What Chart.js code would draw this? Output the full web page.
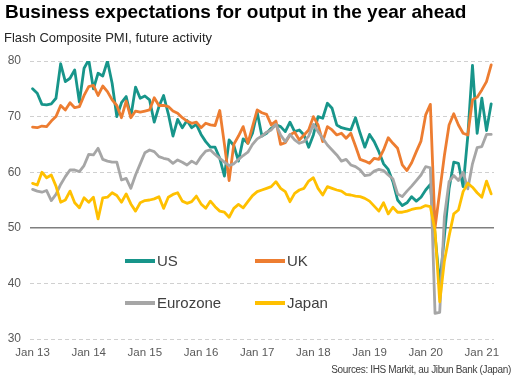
<!DOCTYPE html>
<html>
<head>
<meta charset="utf-8">
<script src="https://cdn.jsdelivr.net/npm/chart.js@4"></script>
<style>
  html, body { margin: 0; padding: 0; background: #fff; }
  #wrap { position: relative; width: 522px; height: 388px; overflow: hidden; font-family: "Liberation Sans", Arial, sans-serif; }
  #title { position: absolute; left: 5px; top: 2px; font-size: 19px; line-height: 19px; font-weight: bold; color: #000; white-space: nowrap; }
  #subtitle { position: absolute; left: 4px; top: 31px; font-size: 13px; line-height: 13px; color: #262626; white-space: nowrap; }
  #source { position: absolute; right: 11px; top: 365px; font-size: 10px; line-height: 10px; color: #404040; letter-spacing: -0.35px; white-space: nowrap; }
  canvas { position: absolute; left: 0; top: 0; }
</style>
</head>
<body>
<div id="wrap">
  <canvas id="pmiChart" width="522" height="388"></canvas>
  <div id="title">Business expectations for output in the year ahead</div>
  <div id="subtitle">Flash Composite PMI, future activity</div>
  <div id="source">Sources: IHS Markit, au Jibun Bank (Japan)</div>
</div>
<script>
/* Flash composite PMI future activity, monthly Jan 2013 - Mar 2021 */
const tickLabels = ['Jan 13', 'Jan 14', 'Jan 15', 'Jan 16', 'Jan 17', 'Jan 18', 'Jan 19', 'Jan 20', 'Jan 21'];
const seriesNames = ['US', 'UK', 'Eurozone', 'Japan'];

const usValues = [
  75.0, 74.2, 72.2, 72.1, 72.3, 73.3, 79.5, 76.3, 76.9, 78.4, 72.6, 78.7,
  80.2, 75.0, 77.8, 77.3, 80.0, 76.0, 70.0, 72.5, 73.6, 70.0, 75.3, 73.3,
  73.7, 73.0, 69.0, 71.8, 73.8, 70.5, 66.5, 69.5, 68.0, 69.3, 68.0, 68.6,
  66.8, 65.5, 64.5, 64.5, 62.5, 59.3, 65.8, 64.8, 62.0, 66.0, 65.2, 67.0,
  70.8, 66.5, 67.0, 67.9, 68.5, 68.2, 67.3, 69.0, 67.3, 67.6, 66.7, 64.5,
  66.7, 70.0, 69.7, 72.4, 71.5, 68.5, 68.0, 67.8, 67.6, 69.8, 67.0, 64.5,
  66.8, 65.5, 63.7, 61.5, 60.5, 58.3, 55.0, 54.0, 54.5, 55.6, 54.8, 55.5,
  56.8, 57.8, 48.7, 39.8, 48.5, 57.0, 61.8, 61.6, 57.4, 66.5, 79.2, 67.0,
  73.3, 67.5, 72.3
];
const ukValues = [
  68.1, 68.0, 68.3, 68.2, 69.2, 70.0, 72.0, 71.2, 72.5, 71.6, 71.8, 73.8,
  75.4, 75.6, 73.8, 75.5, 74.5, 73.0, 72.0, 69.8, 72.8, 69.8, 71.0, 70.8,
  71.0, 71.2, 73.4, 72.0, 72.0, 71.8, 71.0, 70.6, 69.8, 69.2, 68.8, 69.0,
  68.0, 68.8, 68.5, 68.4, 71.1, 65.0, 58.5, 65.0, 66.5, 68.2, 65.2, 68.2,
  71.2, 70.7, 70.4, 68.5, 69.2, 65.0, 65.3, 66.7, 67.2, 65.8, 66.7, 67.6,
  70.0, 68.5, 65.5, 68.2, 67.6, 66.7, 67.0, 66.1, 67.0, 64.7, 62.3, 62.0,
  61.6, 62.5, 62.3, 64.0, 66.2, 65.2, 64.3, 61.3, 60.3, 61.7, 63.7, 65.6,
  70.3, 72.2, 50.0, 56.5, 63.0, 68.5, 70.5, 68.5, 67.0, 66.7, 73.0, 73.5,
  74.8, 76.3, 79.3
];
const ezValues = [
  56.9, 56.6, 56.4, 56.7, 54.9, 56.0, 57.8, 59.2, 60.4, 60.4, 60.1, 61.2,
  63.2, 63.1, 64.3, 62.3, 62.0, 61.8, 61.8, 58.6, 58.9, 57.1, 59.5, 61.5,
  63.5, 64.0, 63.7, 62.8, 62.5, 62.3, 61.6, 62.2, 61.8, 61.3, 62.0, 61.5,
  62.8, 63.8, 64.0, 63.2, 62.5, 61.8, 61.2, 61.5, 62.3, 63.0, 63.6, 65.0,
  66.0, 66.5, 67.2, 67.6, 68.6, 66.7, 65.5, 66.8, 65.8, 65.2, 65.5, 66.5,
  68.6, 67.3, 66.1, 64.9, 64.0, 63.1, 62.0, 62.3, 61.3, 61.0, 60.4, 59.4,
  59.5, 60.2, 60.5, 60.3, 59.5, 58.8, 56.1, 55.6, 56.6, 57.5, 58.5, 59.5,
  61.0, 60.8, 34.6, 34.8, 52.0, 58.3, 59.4, 58.5, 60.0, 57.0, 61.5, 64.4,
  64.6, 66.8, 66.8
];
const jpValues = [
  58.0, 57.7, 60.0, 59.0, 59.5, 57.5, 54.6, 55.0, 56.6, 54.5, 53.6, 55.4,
  54.6, 55.5, 51.6, 55.4, 55.5, 56.3, 55.8, 54.6, 56.1, 54.3, 53.0, 54.5,
  54.9, 55.0, 55.2, 55.6, 53.5, 55.5, 56.0, 56.3, 54.8, 54.4, 54.7, 55.7,
  54.3, 53.5, 54.8, 53.8, 53.0, 52.8, 51.9, 53.5, 54.2, 53.6, 54.7, 55.8,
  56.5, 56.8, 57.1, 57.4, 58.3, 57.1, 56.5, 54.7, 56.2, 56.8, 57.1, 58.4,
  59.0, 57.1, 55.9, 57.4, 57.1, 56.8, 56.6, 56.0, 55.9, 55.7, 55.6, 55.3,
  54.8, 53.9, 53.0, 54.5, 52.5, 53.7, 52.8, 52.8, 53.0, 53.3, 53.5, 53.6,
  54.0, 53.8, 49.5, 36.7, 44.0, 48.5, 52.5, 53.2, 56.5, 58.0, 57.3, 56.3,
  55.5, 58.4, 56.1
];

const seriesColors = ['#17958A', '#ED7D31', '#A6A6A6', '#FFC000'];
const FONT = '"Liberation Sans", Arial, sans-serif';

function toPoints(values) {
  return values.map((v, i) => ({ x: i, y: v }));
}

// legend drawn inside the plot, two rows of two
const insideLegend = {
  id: 'insideLegend',
  afterDatasetsDraw(chart) {
    const { ctx, chartArea } = chart;
    const cols = [chartArea.left + 95, chartArea.left + 225];
    const rows = [chartArea.top + 200, chartArea.top + 242];
    ctx.save();
    ctx.font = '15px ' + FONT;
    ctx.textBaseline = 'middle';
    ctx.textAlign = 'left';
    chart.data.datasets.forEach((ds, i) => {
      const x = cols[i % 2];
      const y = rows[Math.floor(i / 2)];
      ctx.strokeStyle = ds.borderColor;
      ctx.lineWidth = 4;
      ctx.beginPath();
      ctx.moveTo(x, y);
      ctx.lineTo(x + 30, y);
      ctx.stroke();
      ctx.fillStyle = '#404040';
      ctx.fillText(ds.label, x + 32, y + 0.5);
    });
    ctx.restore();
  }
};

const allSeries = [usValues, ukValues, ezValues, jpValues];

const datasets = allSeries.map((vals, i) => ({
  label: seriesNames[i],
  data: toPoints(vals),
  borderColor: seriesColors[i],
  backgroundColor: seriesColors[i],
  borderWidth: 2.8,
  borderJoinStyle: 'round',
  borderCapStyle: 'round',
  pointRadius: 0,
  tension: 0,
  fill: false,
  order: allSeries.length - i,
}));

new Chart(document.getElementById('pmiChart'), {
  type: 'line',
  data: { datasets },
  options: {
    responsive: false,
    animation: false,
    devicePixelRatio: 1,
    layout: { padding: { top: 61, right: 28, left: 0, bottom: 0 } },
    plugins: {
      legend: { display: false },
      tooltip: { enabled: false },
    },
    scales: {
      x: {
        type: 'linear',
        min: -0.55,
        max: 98.6,
        afterBuildTicks: scale => {
          scale.ticks = tickLabels.map((_, i) => ({ value: i * 12 }));
        },
        afterFit: scale => { scale.height = 49; },
        ticks: {
          autoSkip: false,
          maxRotation: 0,
          padding: 7,
          color: '#595959',
          font: { family: FONT, size: 11.5 },
          callback: v => tickLabels[Math.round(v / 12)],
        },
        grid: { display: false, drawTicks: false },
        border: { display: false },
      },
      y: {
        min: 30,
        max: 80,
        afterFit: scale => { scale.width = 30; },
        ticks: {
          stepSize: 10,
          padding: 9,
          color: '#595959',
          font: { family: FONT, size: 12 },
        },
        grid: {
          drawTicks: false,
          color: c => c.tick.value === 50 ? '#7F7F7F' : '#D0D0D0',
          lineWidth: c => c.tick.value === 50 ? 1.5 : 1,
        },
        border: {
          display: false,
          dash: c => (c.tick && c.tick.value === 50) ? [] : [4, 3],
        },
      }
    }
  },
  plugins: [insideLegend]
});
</script>
</body>
</html>
